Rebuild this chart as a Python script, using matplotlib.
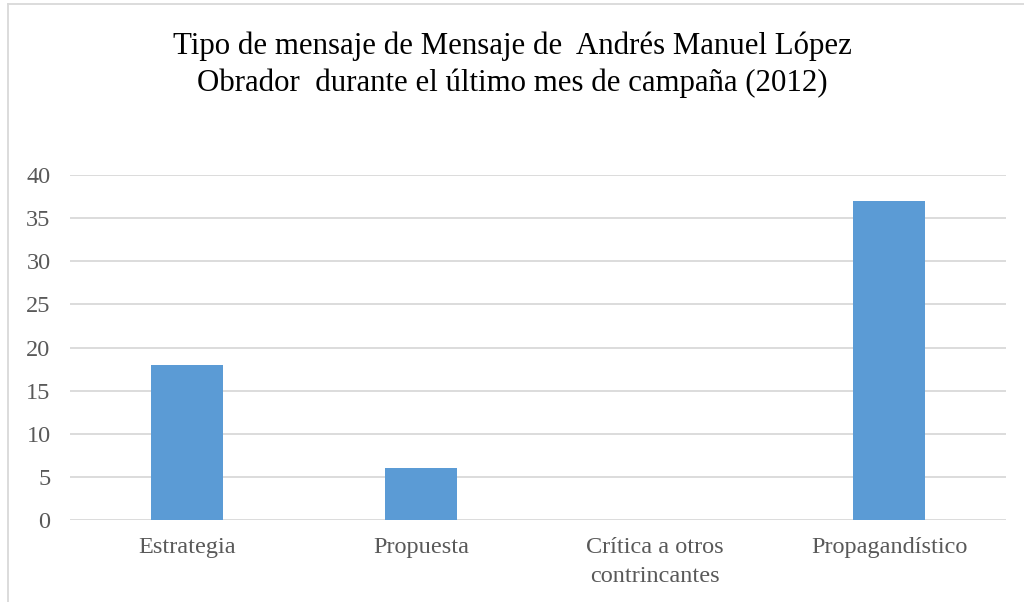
import matplotlib.pyplot as plt
from matplotlib.lines import Line2D

categorias = ["Estrategia", "Propuesta", "Crítica a otros\ncontrincantes", "Propagandístico"]
valores = [18, 6, 0, 37]
yticks = [0, 5, 10, 15, 20, 25, 30, 35, 40]
titulo = "Tipo de mensaje de Mensaje de  Andrés Manuel López\nObrador  durante el último mes de campaña (2012)"

plt.rcParams['font.family'] = ['Liberation Serif', 'DejaVu Serif']

fig = plt.figure(figsize=(10.24, 6.02), dpi=100)
ax = fig.add_axes([70 / 1024, 1 - 520 / 602, 936 / 1024, 345 / 602])

x = range(len(categorias))
ax.bar(x, valores, width=0.31, color="#5B9BD5", zorder=3)

ax.set_xlim(-0.5, len(categorias) - 0.5)
ax.set_ylim(0, 40)
ax.set_yticks(yticks)
ax.set_xticks(list(x))
ax.set_xticklabels(categorias, linespacing=1.5)
ax.yaxis.grid(True, color="#D9D9D9", linewidth=1.3, zorder=0)
ax.tick_params(axis="both", length=0, labelsize=17.5, colors="#595959")
ax.tick_params(axis="y", pad=14)
ax.tick_params(axis="x", pad=12)
for s in ax.spines.values():
    s.set_visible(False)

fig.text(0.5, 1 - 65 / 602, titulo, ha="center", va="center", fontsize=22.2,
         color="#000000", linespacing=1.35)

# chart area border (only left and top visible in the crop)
fig.add_artist(Line2D([8 / 1024, 8 / 1024], [0, 1 - 4 / 602], transform=fig.transFigure,
                      color="#D9D9D9", linewidth=1.3))
fig.add_artist(Line2D([8 / 1024, 1], [1 - 4 / 602, 1 - 4 / 602], transform=fig.transFigure,
                      color="#D9D9D9", linewidth=1.3))

plt.savefig("out.png", dpi=100)
